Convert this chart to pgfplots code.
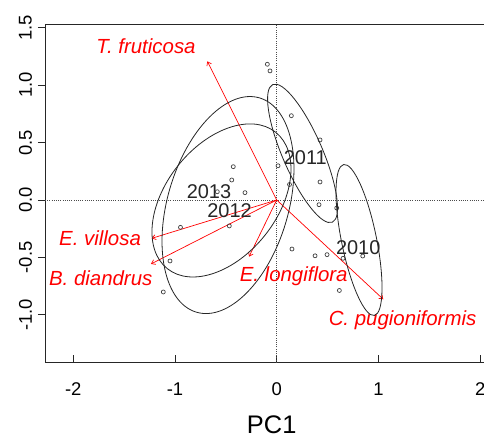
\documentclass[border=0pt]{standalone}
\usepackage{fontspec}
\setmainfont{Liberation Sans}
\usepackage{pgfplots}
\pgfplotsset{compat=1.18}
\usetikzlibrary{arrows.meta}
\begin{document}
\begin{tikzpicture}
\begin{axis}[
  at={(0,0)}, anchor=south west,
  scale only axis, width=439bp, height=338.4bp,
  xmin=-2.278, xmax=2.038, ymin=-1.417, ymax=1.530,
  axis x line*=bottom, axis y line*=left,
  axis line style={black!85, line width=0.8bp, -},
  xtick={-2,-1,0,1,2}, xticklabels={-2,-1,0,1,2},
  ytick={-1,-0.5,0,0.5,1,1.5}, yticklabels={-1.0,-0.5,0.0,0.5,1.0,1.5},
  tick align=inside, major tick length=8bp, tick pos=left,
  xtick style={black!85, line width=0.8bp},
  ytick style={black!85, line width=0.8bp, xshift=-7bp},
  xticklabel style={font=\fontsize{18.5}{20}\selectfont, anchor=center, inner sep=0pt, yshift=-26.6bp},
  yticklabel style={font=\fontsize{18.5}{20}\selectfont, inner sep=0pt, xshift=-19.5bp, rotate=90, anchor=center},
  xlabel={PC1},
  xlabel style={at={(axis description cs:0.5164,0)}, anchor=center, inner sep=0pt, yshift=-62.5bp, font=\fontsize{25.5}{27}\selectfont},
  clip=false,
]
% top frame line
\draw[black!85, line width=0.8bp] (rel axis cs:0,1) -- (rel axis cs:1,1);
% dotted zero lines
\addplot[black!70, line width=0.6bp, dash pattern=on 1bp off 1.2bp] coordinates {(0,-1.417) (0,1.530)};
\addplot[black!70, line width=0.6bp, dash pattern=on 1bp off 1.2bp] coordinates {(-2.278,0) (2.038,0)};
% site scores
\addplot[only marks, mark=o, mark size=2bp, black!75, mark options={line width=0.7bp}] coordinates {
(-0.427,0.290) (-0.442,0.174) (-0.312,0.064) (-0.584,0.072)
(-0.946,-0.238) (-0.466,-0.226) (-1.049,-0.531) (-1.115,-0.801)
(0.013,0.298) (-0.092,1.182) (-0.066,1.124) (0.144,0.734)
(0.426,0.523) (0.126,0.135) (0.426,0.157) (0.416,-0.041)
(0.590,-0.070) (0.150,-0.427) (0.377,-0.486) (0.495,-0.476)
(0.652,-0.508) (0.846,-0.488) (0.616,-0.788)
};
% species arrows
\pgfplotsset{arr/.style={red, line width=0.7bp, -{Straight Barb[length=3.5bp,width=5bp]}}}
\addplot[arr] coordinates {(0,0) (-0.682,1.208)};
\addplot[arr] coordinates {(0,0) (-1.229,-0.334)};
\addplot[arr] coordinates {(0,0) (-1.236,-0.557)};
\addplot[arr] coordinates {(0,0) (-0.272,-0.494)};
\addplot[arr] coordinates {(0,0) (1.048,-0.865)};
% species labels
\begin{scope}[every node/.style={red, font=\fontsize{20.5}{22}\selectfont\itshape, inner sep=0pt}]
\node at (axis cs:-1.285,1.335) {T. fruticosa};
\node at (axis cs:-1.737,-0.331) {E. villosa};
\node at (axis cs:-1.730,-0.682) {B. diandrus};
\node at (axis cs:0.167,-0.668) {E. longiflora};
\node at (axis cs:1.237,-1.045) {C. pugioniformis};
\end{scope}
% year labels
\begin{scope}[every node/.style={black!85, font=\fontsize{20}{22}\selectfont, inner sep=0pt}]
\node at (axis cs:-0.666,0.072) {2013};
\node at (axis cs:-0.464,-0.096) {2012};
\node at (axis cs:0.281,0.372) {2011};
\node at (axis cs:0.801,-0.412) {2010};
\end{scope}
% ellipse centres
\coordinate (e12) at (axis cs:-0.479,-0.044);
\coordinate (e13) at (axis cs:-0.543,-0.004);
\coordinate (e11) at (axis cs:0.254,0.406);
\coordinate (e10) at (axis cs:0.809,-0.348);
\end{axis}
\begin{scope}[black!85, line width=0.8bp]
\draw[rotate around={73.6:(e12)}] (e12) ellipse [x radius=111.7bp, y radius=60.4bp];
\draw[rotate around={51.6:(e13)}] (e13) ellipse [x radius=87.1bp, y radius=55.7bp];
\draw[rotate around={113.4:(e11)}] (e11) ellipse [x radius=75bp, y radius=20bp];
\draw[rotate around={101.5:(e10)}] (e10) ellipse [x radius=77bp, y radius=17.5bp];
\end{scope}
\pgfresetboundingbox
\path[use as bounding box] (-45bp,-76.3bp) rectangle (439bp,362.7bp);
\end{tikzpicture}
\end{document}
